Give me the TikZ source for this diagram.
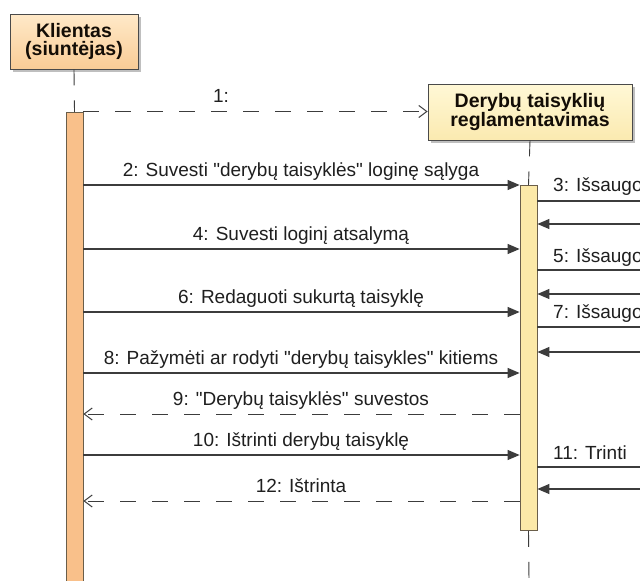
\documentclass[tikz,border=0pt]{standalone}
\usepackage{fontspec}
\setmainfont{Liberation Sans}[Ligatures=TeXOff]
\usetikzlibrary{arrows.meta,shadows}

\definecolor{ink}{HTML}{3C3C3C}
\definecolor{boxline}{HTML}{4A4A4A}
\definecolor{clientTop}{HTML}{FFE9C8}
\definecolor{clientBot}{HTML}{F9CC96}
\definecolor{ctrlTop}{HTML}{FFF8D6}
\definecolor{ctrlBot}{HTML}{FBEAB0}
\definecolor{clientBar}{HTML}{F9C08A}
\definecolor{ctrlBar}{HTML}{FCE9A8}
\definecolor{barline}{HTML}{6A5E4A}

\begin{document}
\begin{tikzpicture}[x=1pt,y=-1pt,
  actor/.style={draw=boxline, line width=0.8pt, align=center, inner sep=0pt,
    font=\fontsize{19.5}{18.5}\selectfont\bfseries, text=black!90!brown,
    drop shadow={shadow xshift=3pt, shadow yshift=-3pt, fill=black!45, opacity=0.55}},
  actbar/.style={draw=barline, line width=0.8pt, minimum width=17pt, inner sep=0pt, anchor=north},
  life/.style={draw=ink, line width=0.9pt, dash pattern=on 16pt off 15pt},
  msg/.style={draw=ink, line width=1.1pt, -{Triangle[length=12pt,width=10pt]}},
  reply/.style={draw=ink, line width=1pt, dash pattern=on 16pt off 16pt,
    -{Straight Barb[length=8pt,width=12pt]}},
  lbl/.style={font=\fontsize{19}{21}\selectfont, text=black!88, inner sep=0pt, anchor=base},
  rlbl/.style={lbl, anchor=base west}
]
\useasboundingbox (0,0) rectangle (640,581);
\fill[white] (0,0) rectangle (640,581);

% participants
\node[actor, top color=clientTop, bottom color=clientBot,
      minimum width=128pt, minimum height=55pt] (kl) at (74,41.5) {Klientas\\(siuntėjas)};
\node[actor, top color=ctrlTop, bottom color=ctrlBot,
      minimum width=204pt, minimum height=56pt] (dr) at (530,112) {Derybų taisyklių\\reglamentavimas};

% activation bars
\node[actbar, fill=clientBar, minimum height=475pt] (la) at (74.5,112) {};
\node[actbar, fill=ctrlBar, minimum height=345pt] (ra) at (528.5,185) {};

% lifelines
\coordinate (endR) at (529,581);
\draw[life] (kl.south) -- (la.north);
\draw[life] (dr.south) -- (ra.north);
\draw[life] (ra.south) -- (endR);

% message rows
\coordinate (r1) at (0,111.5);
\coordinate (r2) at (0,185);
\coordinate (r4) at (0,249);
\coordinate (r6) at (0,312);
\coordinate (r8) at (0,373);
\coordinate (r9) at (0,414);
\coordinate (r10) at (0,455);
\coordinate (r12) at (0,501);
% outgoing calls to the right and their returns
\coordinate (o3) at (640,201);
\coordinate (b3) at (640,224);
\coordinate (o5) at (640,270);
\coordinate (b5) at (640,294);
\coordinate (o7) at (640,327);
\coordinate (b7) at (640,352);
\coordinate (o11) at (640,467);
\coordinate (b11) at (640,489);

% messages between the two participants
\draw[reply] (la.east |- r1) -- (dr.west |- r1);
\node[lbl] (t1) at (221,102) {1:};

\draw[msg] (la.east |- r2) -- (ra.west |- r2);
\node[lbl] (t2) at (301,176) {2: Suvesti "derybų taisyklės" loginę sąlyga};

\draw[msg] (la.east |- r4) -- (ra.west |- r4);
\node[lbl] (t4) at (301,240) {4: Suvesti loginį atsalymą};

\draw[msg] (la.east |- r6) -- (ra.west |- r6);
\node[lbl] (t6) at (301,303) {6: Redaguoti sukurtą taisyklę};

\draw[msg] (la.east |- r8) -- (ra.west |- r8);
\node[lbl] (t8) at (301,364) {8: Pažymėti ar rodyti "derybų taisykles" kitiems};

\draw[reply] (ra.west |- r9) -- (la.east |- r9);
\node[lbl] (t9) at (301,405) {9: "Derybų taisyklės" suvestos};

\draw[msg] (la.east |- r10) -- (ra.west |- r10);
\node[lbl] (t10) at (301,446) {10: Ištrinti derybų taisyklę};

\draw[reply] (ra.west |- r12) -- (la.east |- r12);
\node[lbl] (t12) at (301,492) {12: Ištrinta};

% calls leaving the controller
\draw[ink, line width=1.1pt] (ra.east |- o3) -- (o3);
\node[rlbl] (t3) at (553,191) {3: Išsaugo};
\draw[msg] (b3) -- (ra.east |- b3);

\draw[ink, line width=1.1pt] (ra.east |- o5) -- (o5);
\node[rlbl] (t5) at (553,262) {5: Išsaugo};
\draw[msg] (b5) -- (ra.east |- b5);

\draw[ink, line width=1.1pt] (ra.east |- o7) -- (o7);
\node[rlbl] (t7) at (553,318) {7: Išsaugo};
\draw[msg] (b7) -- (ra.east |- b7);

\draw[ink, line width=1.1pt] (ra.east |- o11) -- (o11);
\node[rlbl] (t11) at (553,459) {11: Trinti};
\draw[msg] (b11) -- (ra.east |- b11);
\end{tikzpicture}
\end{document}
